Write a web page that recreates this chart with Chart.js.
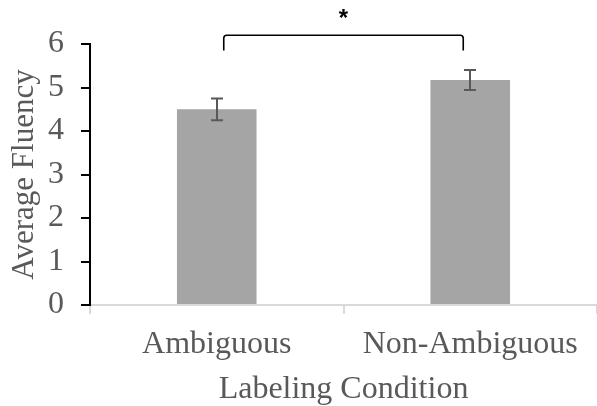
<!DOCTYPE html>
<html>
<head>
<meta charset="utf-8">
<script src="https://cdn.jsdelivr.net/npm/chart.js@4"></script>
<style>
  html, body { margin: 0; padding: 0; background: #fff; }
  #wrap { width: 597px; height: 406px; }
</style>
</head>
<body>
<div id="wrap"><canvas id="c" width="597" height="406"></canvas></div>
<script>
const categories = ['Ambiguous', 'Non-Ambiguous'];
const means = [4.5, 5.17];
const errors = [0.25, 0.23];
const yTicks = [0, 1, 2, 3, 4, 5, 6];
const bracketLevel = 6.2;
const bracketDrop = 5.85;
const starLevel = 6.65;
const sigLabel = '*';

const serif = "'Liberation Serif', 'Times New Roman', serif";
const textGray = '#595959';

const annotPlugin = {
  id: 'annot',
  afterDatasetsDraw(chart) {
    const ctx = chart.ctx;
    const y = chart.scales.y;
    const meta = chart.getDatasetMeta(0);
    ctx.save();
    ctx.strokeStyle = '#595959';
    ctx.lineWidth = 2;
    meta.data.forEach((bar, i) => {
      const x = Math.round(bar.x);
      const t = y.getPixelForValue(means[i] + errors[i]);
      const b = y.getPixelForValue(means[i] - errors[i]);
      ctx.beginPath();
      ctx.moveTo(x, t); ctx.lineTo(x, b);
      ctx.moveTo(x - 6, t); ctx.lineTo(x + 6, t);
      ctx.moveTo(x - 6, b); ctx.lineTo(x + 6, b);
      ctx.stroke();
    });
    // significance bracket
    const x0 = meta.data[0].x + 7;
    const x1 = meta.data[1].x - 7;
    const yb = y.getPixelForValue(bracketLevel);
    const yd = y.getPixelForValue(bracketDrop);
    ctx.strokeStyle = '#000';
    ctx.lineWidth = 1.6;
    ctx.lineJoin = 'round';
    ctx.beginPath();
    ctx.moveTo(x0, yd);
    ctx.arcTo(x0, yb, x0 + 4, yb, 3);
    ctx.arcTo(x1, yb, x1, yb + 4, 3);
    ctx.lineTo(x1, yd);
    ctx.stroke();
    ctx.fillStyle = '#000';
    ctx.font = "bold 24px 'Liberation Sans', Arial, sans-serif";
    ctx.textAlign = 'center';
    ctx.textBaseline = 'middle';
    ctx.fillText(sigLabel, (x0 + x1) / 2, y.getPixelForValue(starLevel) + 4);
    ctx.restore();
  }
};

new Chart(document.getElementById('c'), {
  type: 'bar',
  data: {
    labels: categories,
    datasets: [{
      data: means,
      backgroundColor: '#A5A5A5',
      borderWidth: 0,
      barPercentage: 0.314,
      categoryPercentage: 1.0
    }]
  },
  options: {
    responsive: false,
    animation: false,
    devicePixelRatio: 1,
    layout: { padding: { top: 44, right: 0, left: 0, bottom: 0 } },
    plugins: { legend: { display: false }, tooltip: { enabled: false } },
    scales: {
      x: {
        offset: true,
        afterFit(scale) { scale.height = 101; },
        grid: {
          offset: true,
          drawOnChartArea: false,
          drawTicks: true,
          tickLength: 9,
          color: (c) => (c.index >= categories.length ? 'rgba(0,0,0,0)' : '#D9D9D9'),
          lineWidth: 2
        },
        border: { display: true, color: '#D9D9D9', width: 2 },
        ticks: {
          color: textGray,
          font: { family: serif, size: 32 },
          padding: 11
        },
        title: {
          display: true,
          text: 'Labeling Condition',
          color: textGray,
          font: { family: serif, size: 32, lineHeight: 1.0 },
          padding: { top: 0, bottom: 0 }
        }
      },
      y: {
        min: 0,
        max: 6,
        afterFit(scale) { scale.width = 90; },
        afterBuildTicks(scale) { scale.ticks = yTicks.map(v => ({ value: v })); },
        grid: {
          drawOnChartArea: false,
          drawTicks: true,
          tickLength: 9,
          color: '#000',
          lineWidth: 2
        },
        border: { display: true, color: '#000', width: 2 },
        ticks: {
          color: textGray,
          font: { family: serif, size: 32 },
          padding: 17
        },
        title: {
          display: true,
          text: 'Average Fluency',
          color: textGray,
          font: { family: serif, size: 31 },
          padding: { top: 6, bottom: 0 }
        }
      }
    }
  },
  plugins: [annotPlugin]
});
</script>
</body>
</html>
